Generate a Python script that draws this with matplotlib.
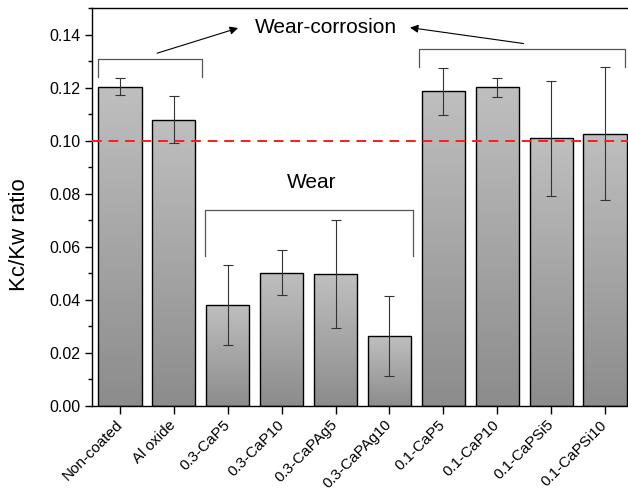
import numpy as np
import matplotlib.pyplot as plt
from matplotlib.colors import LinearSegmentedColormap
from matplotlib.ticker import MultipleLocator

plt.rcParams['font.family'] = ['Liberation Sans', 'DejaVu Sans']

samples = ['Non-coated', 'Al oxide', '0.3-CaP5', '0.3-CaP10', '0.3-CaPAg5',
           '0.3-CaPAg10', '0.1-CaP5', '0.1-CaP10', '0.1-CaPSi5', '0.1-CaPSi10']
ratio = [0.1204, 0.1080, 0.0381, 0.0503, 0.0497, 0.0263, 0.1186, 0.1202, 0.1009, 0.1027]
ratio_err = [0.0032, 0.0089, 0.0150, 0.0084, 0.0203, 0.0150, 0.0090, 0.0036, 0.0218, 0.0250]
threshold = 0.10

fig = plt.figure(figsize=(6.28, 4.98), dpi=100)
ax = fig.add_axes([0.1465, 0.1847, 0.8615, 0.799])

x = np.arange(len(samples))
bars = ax.bar(x, ratio, width=0.8, color='none', edgecolor='black', linewidth=1.0, zorder=3)

# vertical grey gradient inside each bar, dark at the base
shade = LinearSegmentedColormap.from_list('shade', ['#8c8c8c', '#bfbfbf'])
grad = np.linspace(0, 1, 256).reshape(-1, 1)
for b in bars:
    x0, y0 = b.get_x(), b.get_y()
    im = ax.imshow(grad, cmap=shade, aspect='auto', origin='lower',
                   extent=[x0, x0 + b.get_width(), y0, y0 + b.get_height()], zorder=2)
    im.set_clip_path(b)

ax.errorbar(x, ratio, yerr=ratio_err, fmt='none', ecolor='#333333', elinewidth=0.8,
            capsize=3.5, capthick=0.8, zorder=4)

ax.axhline(threshold, color='#ff1a1a', linestyle=(0, (5, 3.5)), linewidth=1.4, zorder=5)

# brackets grouping the samples
bk = dict(color='#555555', linewidth=0.9)
ax.plot([-0.40, -0.40, 1.52, 1.52], [0.1242, 0.1308, 0.1308, 0.1242], **bk)
ax.plot([5.54, 5.54, 9.38, 9.38], [0.1277, 0.1344, 0.1344, 0.1277], **bk)
ax.plot([1.58, 1.58, 5.44, 5.44], [0.0567, 0.0740, 0.0740, 0.0567], **bk)

ax.text(3.83, 0.1428, 'Wear-corrosion', fontsize=15, ha='center', va='center')
ax.text(3.56, 0.0842, 'Wear', fontsize=15, ha='center', va='center')
arr = dict(arrowstyle='-|>', color='black', linewidth=0.8, mutation_scale=12)
ax.annotate('', xy=(2.24, 0.1428), xytext=(0.64, 0.1327), arrowprops=arr)
ax.annotate('', xy=(5.33, 0.1428), xytext=(7.54, 0.1365), arrowprops=arr)

ax.set_xlim(-0.52, 9.52)
ax.set_ylim(0, 0.15)
ax.set_xticks(x)
ax.set_xticklabels(samples, rotation=45, ha='right', va='center',
                   rotation_mode='anchor', fontsize=11)
ax.yaxis.set_major_locator(MultipleLocator(0.02))
ax.yaxis.set_minor_locator(MultipleLocator(0.01))
ax.yaxis.set_major_formatter(plt.FormatStrFormatter('%.2f'))
ax.tick_params(axis='y', which='major', direction='out', length=5, width=1, labelsize=11.5)
ax.tick_params(axis='y', which='minor', direction='out', length=3, width=1)
ax.tick_params(axis='x', direction='out', length=6, width=1, pad=6)
ax.set_ylabel('Kc/Kw ratio', fontsize=16)
ax.yaxis.set_label_coords(-0.115, 0.43)
for s in ax.spines.values():
    s.set_linewidth(1.0)

fig.savefig('out.png', dpi=100)
